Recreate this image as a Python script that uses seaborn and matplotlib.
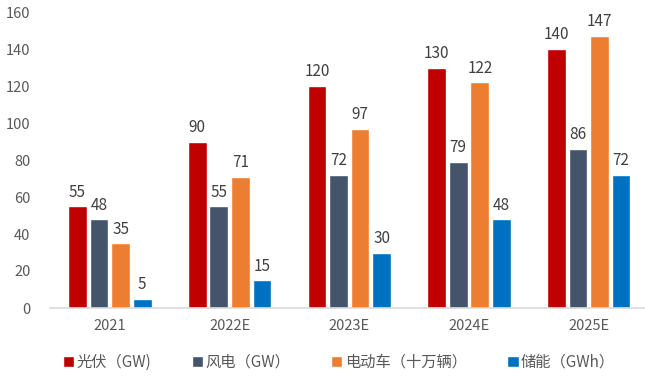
import matplotlib
matplotlib.use("Agg")
import matplotlib.pyplot as plt
import seaborn as sns
import pandas as pd

# Annual figures by series
years = ["2021", "2022E", "2023E", "2024E", "2025E"]
series_names = ["光伏（GW)", "风电（GW）", "电动车（十万辆）", "储能（GWh）"]
pv = [55, 90, 120, 130, 140]
wind = [48, 55, 72, 79, 86]
ev = [35, 71, 97, 122, 147]
storage = [5, 15, 30, 48, 72]
colors = ["#C00000", "#44546A", "#ED7D31", "#0070C0"]

sns.set_theme(style="white")
plt.rcParams["font.family"] = ["Noto Sans CJK SC", "DejaVu Sans"]

rows = []
for name, vals in zip(series_names, [pv, wind, ev, storage]):
    for y, v in zip(years, vals):
        rows.append({"year": y, "series": name, "value": v})
df = pd.DataFrame(rows)

fig = plt.figure(figsize=(6.45, 3.78), dpi=100)
ax = fig.add_axes([50 / 645, (378 - 308) / 378, 595 / 645, 296 / 378])

sns.barplot(data=df, x="year", y="value", hue="series", order=years,
            hue_order=series_names, palette=colors, width=0.72, gap=0.13,
            saturation=1, ax=ax, legend=True)

for cont in ax.containers:
    ax.bar_label(cont, padding=4, fontsize=11, color="#404040")

ax.set_ylim(0, 160)
ax.set_xlim(-0.5, 4.47)
ax.set_yticks(range(0, 161, 20))
ax.set_xlabel("")
ax.set_ylabel("")
ax.tick_params(axis="both", length=0, labelsize=10.5, labelcolor="#595959")
ax.tick_params(axis="y", pad=14)
ax.tick_params(axis="x", pad=8)
for s in ["top", "right", "left"]:
    ax.spines[s].set_visible(False)
ax.spines["bottom"].set_color("#D9D9D9")
ax.spines["bottom"].set_linewidth(1.2)

handles, labels = ax.get_legend_handles_labels()
ax.legend(handles, labels, loc="center", bbox_to_anchor=(339 / 645, 16 / 378),
          bbox_transform=fig.transFigure, ncol=4, frameon=False,
          fontsize=11, handlelength=0.75, handleheight=0.75,
          handletextpad=0.15, columnspacing=2.65, labelcolor="#595959")

fig.savefig("out.png", dpi=100)
